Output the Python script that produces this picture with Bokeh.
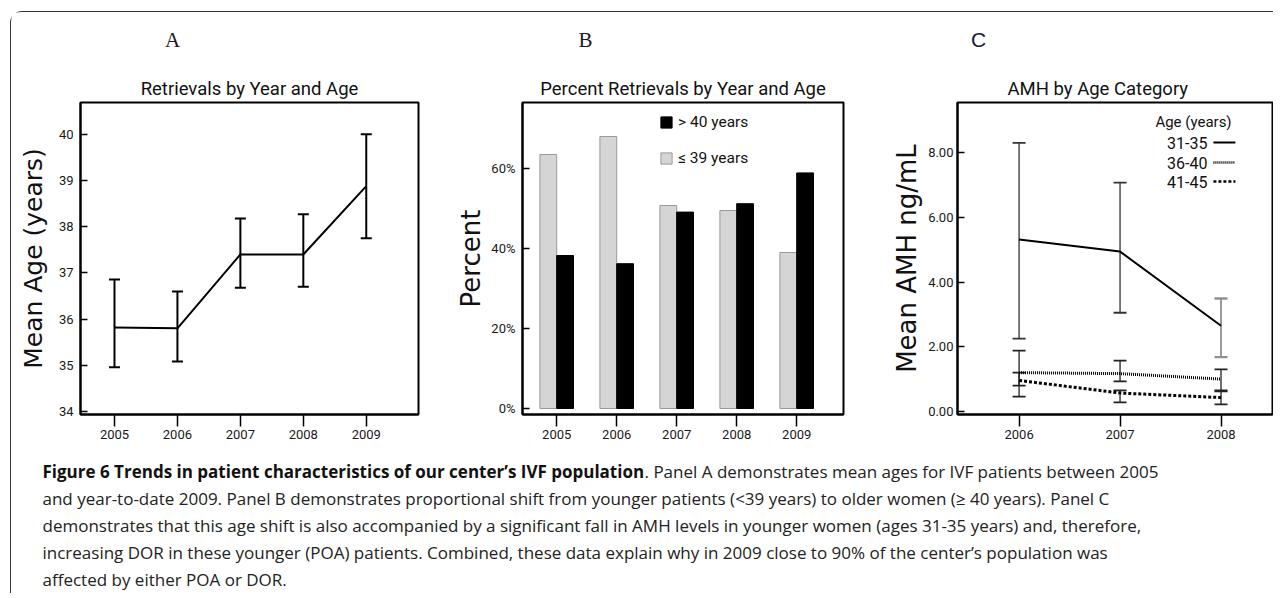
from bokeh.plotting import figure
from bokeh.models import (Range1d, FixedTicker, Whisker, TeeHead, ColumnDataSource,
                          Legend, LegendItem, Label)
from bokeh.layouts import row, column
from bokeh.transform import dodge
from bokeh.embed import file_html
from bokeh.resources import INLINE
from bokeh.core.properties import value

# ---------------- data ----------------
years_a = [2005, 2006, 2007, 2008, 2009]
mean_age = [35.82, 35.80, 37.40, 37.40, 38.88]
age_lo = [34.96, 35.08, 36.68, 36.70, 37.75]
age_hi = [36.86, 36.60, 38.18, 38.27, 40.00]
age_ticks = [34, 35, 36, 37, 38, 39, 40]

years_b = [2005, 2006, 2007, 2008, 2009]
pct_young = [63.5, 68.0, 50.75, 49.5, 39.0]   # <= 39 years
pct_old = [38.25, 36.2, 49.1, 51.2, 58.9]     # > 40 years
pct_ticks = [0, 20, 40, 60]
pct_labels = ["0%", "20%", "40%", "60%"]

years_c = [2006, 2007, 2008]
amh_31 = [5.31, 4.94, 2.65]
amh_31_lo = [2.25, 3.05, 1.68]
amh_31_hi = [8.30, 7.07, 3.49]
amh_36 = [1.20, 1.17, 1.00]
amh_36_lo = [0.46, 0.93, 0.65]
amh_36_hi = [1.88, 1.57, 1.30]
amh_41 = [0.96, 0.57, 0.43]
amh_41_lo = [0.80, 0.28, 0.22]
amh_41_hi = [1.20, 0.65, 0.62]
amh_ticks = [0, 2, 4, 6, 8]
amh_labels = ["0.00", "2.00", "4.00", "6.00", "8.00"]
age_groups = ["31-35", "36-40", "41-45"]

titles = ["Retrievals by Year and Age", "Percent Retrievals by Year and Age", "AMH by Age Category"]
ylabels = ["Mean Age (years)", "Percent", "Mean AMH ng/mL"]
letters = ["A", "B", "C"]

caption_bold = "Figure 6 Trends in patient characteristics of our center\u2019s IVF population"
caption_lines = [
    ". Panel A demonstrates mean ages for IVF patients between 2005",
    "and year-to-date 2009. Panel B demonstrates proportional shift from younger patients (<39 years) to older women (\u2265 40 years). Panel C",
    "demonstrates that this age shift is also accompanied by a significant fall in AMH levels in younger women (ages 31-35 years) and, therefore,",
    "increasing DOR in these younger (POA) patients. Combined, these data explain why in 2009 close to 90% of the center\u2019s population was",
    "affected by either POA or DOR.",
]

NARROW = "Roboto"
LABEL_FONT = "DejaVu Sans"
CAP_FONT = "Open Sans"


def style_panel(p, title, ylabel, ysize):
    p.title.text = title
    p.title.align = "center"
    p.title.text_font = NARROW
    p.title.text_font_size = "18.5px"
    p.title.text_font_style = "normal"
    p.title.text_color = "#111111"
    p.title.standoff = 5
    p.xgrid.grid_line_color = None
    p.ygrid.grid_line_color = None
    p.outline_line_color = "black"
    p.outline_line_width = 2
    p.outline_line_alpha = 1
    for ax in p.axis:
        ax.axis_line_width = 2
        ax.axis_line_color = "black"
        ax.major_tick_line_width = 1.5
        ax.major_tick_line_color = "black"
        ax.minor_tick_line_color = None
        ax.major_label_text_font = NARROW
        ax.major_label_text_font_size = "13px"
        ax.major_label_text_color = "#1a1a1a"
    p.xaxis.major_tick_in = 0
    p.xaxis.major_tick_out = 12
    p.xaxis.major_label_standoff = 3
    p.yaxis.major_tick_in = 7
    p.yaxis.major_tick_out = 0
    p.yaxis.axis_label = ylabel
    p.yaxis.axis_label_text_font = LABEL_FONT
    p.yaxis.axis_label_text_font_size = ysize
    p.yaxis.axis_label_text_font_style = "normal"
    p.yaxis.axis_label_text_color = "#111111"


# ---------------- header (panel letters) ----------------
ph = figure(width=1262, height=50, x_range=Range1d(0, 1262), y_range=Range1d(50, 0),
            output_backend="svg", toolbar_location=None, min_border=0)
ph.axis.visible = False
ph.grid.visible = False
ph.outline_line_color = None
ph.text(x=[161, 574], y=[27, 27], text=letters[:2], text_font=value("Liberation Serif"),
        text_font_size="21px", text_align="center", text_baseline="middle", text_color="#1a1a2e")
ph.text(x=[967], y=[27], text=letters[2:], text_font=value("Liberation Sans"),
        text_font_size="21px", text_align="center", text_baseline="middle", text_color="#1a1a2e")

# ---------------- panel A ----------------
pa = figure(width=437, height=389, x_range=Range1d(2004.46, 2009.83), y_range=Range1d(33.935, 40.69),
            output_backend="svg", toolbar_location=None,
            min_border_left=69, min_border_right=30, min_border_top=40, min_border_bottom=37)
style_panel(pa, titles[0], ylabels[0], "25px")
pa.xaxis.ticker = FixedTicker(ticks=years_a)
pa.yaxis.ticker = FixedTicker(ticks=age_ticks)
pa.yaxis.major_label_standoff = 7
pa.yaxis.axis_label_standoff = 8
src_a = ColumnDataSource(dict(x=years_a, m=mean_age, lo=age_lo, hi=age_hi))
pa.line("x", "m", source=src_a, line_width=2, line_color="black")
pa.add_layout(Whisker(source=src_a, base="x", upper="hi", lower="lo", line_width=2, line_color="black",
                      upper_head=TeeHead(size=11, line_width=2, line_color="black"),
                      lower_head=TeeHead(size=11, line_width=2, line_color="black")))

# ---------------- panel B ----------------
pb = figure(width=422, height=389, x_range=Range1d(2004.43, 2009.78), y_range=Range1d(-1.5, 76.5),
            output_backend="svg", toolbar_location=None,
            min_border_left=74, min_border_right=27, min_border_top=40, min_border_bottom=37)
style_panel(pb, titles[1], ylabels[1], "26px")
pb.xaxis.ticker = FixedTicker(ticks=years_b)
pb.yaxis.ticker = FixedTicker(ticks=pct_ticks)
pb.yaxis.major_label_overrides = {t: l for t, l in zip(pct_ticks, pct_labels)}
pb.yaxis.major_label_standoff = 7
pb.yaxis.axis_label_standoff = 2
src_b = ColumnDataSource(dict(x=years_b, young=pct_young, old=pct_old))
bw = 0.28
r_young = pb.vbar(x=dodge("x", -bw / 2), top="young", bottom=0, width=bw, source=src_b,
                  fill_color="#d5d5d5", line_color="#9a9a9a", line_width=1)
r_old = pb.vbar(x=dodge("x", bw / 2), top="old", bottom=0, width=bw, source=src_b,
                fill_color="black", line_color="black", line_width=1)
leg = Legend(items=[LegendItem(label="> 40 years", renderers=[r_old]),
                    LegendItem(label="\u2264 39 years", renderers=[r_young])],
             location=(137, 246), padding=0, margin=0, spacing=16, glyph_width=14, glyph_height=14,
             label_height=20, label_standoff=5, border_line_color=None, background_fill_alpha=0,
             label_text_font=NARROW, label_text_font_size="15.5px", label_text_color="#111111")
pb.add_layout(leg)

# ---------------- panel C ----------------
pc = figure(width=403, height=389, x_range=Range1d(2005.39, 2008.51), y_range=Range1d(-0.093, 9.545),
            output_backend="svg", toolbar_location=None,
            min_border_left=87, min_border_right=1, min_border_top=40, min_border_bottom=37)
style_panel(pc, titles[2], ylabels[2], "26px")
pc.title.align = "left"
pc.title.offset = 50
pc.xaxis.ticker = FixedTicker(ticks=years_c)
pc.yaxis.ticker = FixedTicker(ticks=amh_ticks)
pc.yaxis.major_label_overrides = {t: l for t, l in zip(amh_ticks, amh_labels)}
pc.yaxis.major_label_standoff = 4
pc.yaxis.axis_label_standoff = 3


def add_whisker(p, xs, lo, hi, col, w):
    s = ColumnDataSource(dict(x=xs, lo=lo, hi=hi))
    p.add_layout(Whisker(source=s, base="x", upper="hi", lower="lo", line_width=w, line_color=col,
                         upper_head=TeeHead(size=13, line_width=w + 0.5, line_color=col),
                         lower_head=TeeHead(size=13, line_width=w + 0.5, line_color=col)))


# 31-35 error bars: first two dark, last one rendered lighter (as in the original)
add_whisker(pc, years_c[:2], amh_31_lo[:2], amh_31_hi[:2], "#333333", 1.3)
add_whisker(pc, years_c[2:], amh_31_lo[2:], amh_31_hi[2:], "#8f8f8f", 1.8)
add_whisker(pc, years_c, amh_36_lo, amh_36_hi, "#222222", 1.3)
add_whisker(pc, years_c, amh_41_lo, amh_41_hi, "#222222", 1.3)
pc.line(years_c, amh_31, line_width=2, line_color="black")
pc.line(years_c, amh_36, line_width=3, line_color="black", line_dash="1 1")
pc.line(years_c, amh_41, line_width=3, line_color="black", line_dash="3 2")

# manual legend (label on the left, line sample on the right)
pc.add_layout(Label(x=236, y=293, x_units="screen", y_units="screen", text="Age (years)",
                    text_align="center", text_baseline="middle", text_font=NARROW,
                    text_font_size="15px", text_color="#111111"))
leg_px_y = [272, 252, 233]
dashes = ["solid", "1 1", "3 2"]
for lbl, sy, dash in zip(age_groups, leg_px_y, dashes):
    pc.add_layout(Label(x=250, y=sy, x_units="screen", y_units="screen", text=lbl,
                        text_align="right", text_baseline="middle", text_font=NARROW,
                        text_font_size="16px", text_color="#111111"))
    yd = -0.093 + sy / 32.375
    x0 = 2005.39 + 256 / 101.0
    x1 = 2005.39 + 278 / 101.0
    pc.line([x0, x1], [yd, yd], line_width=2.5 if dash != "solid" else 2, line_color="black", line_dash=dash)

# ---------------- caption ----------------
pcap = figure(width=1262, height=142, x_range=Range1d(0, 1262), y_range=Range1d(142, 0),
              output_backend="svg", toolbar_location=None, min_border=0)
pcap.axis.visible = False
pcap.grid.visible = False
pcap.outline_line_color = None
pcap.text(x=[31], y=[20], text=[caption_bold], text_font=value(CAP_FONT), text_font_style="bold",
          text_font_size="17px", text_baseline="middle", text_color="#111111")
pcap.text(x=[633], y=[20], text=[caption_lines[0]], text_font=value(CAP_FONT),
          text_font_size="17px", text_baseline="middle", text_color="#222222")
pcap.text(x=[31] * 4, y=[47, 74, 101, 128], text=caption_lines[1:], text_font=value(CAP_FONT),
          text_font_size="17px", text_baseline="middle", text_color="#222222")

root = column(ph, row(pa, pb, pc), pcap, margin=(11, 0, 0, 10),
              styles={"border-top": "1.5px solid #333", "border-left": "1.5px solid #333",
                      "border-top-left-radius": "12px"})

open("out.html", "w").write(file_html(root, INLINE))
